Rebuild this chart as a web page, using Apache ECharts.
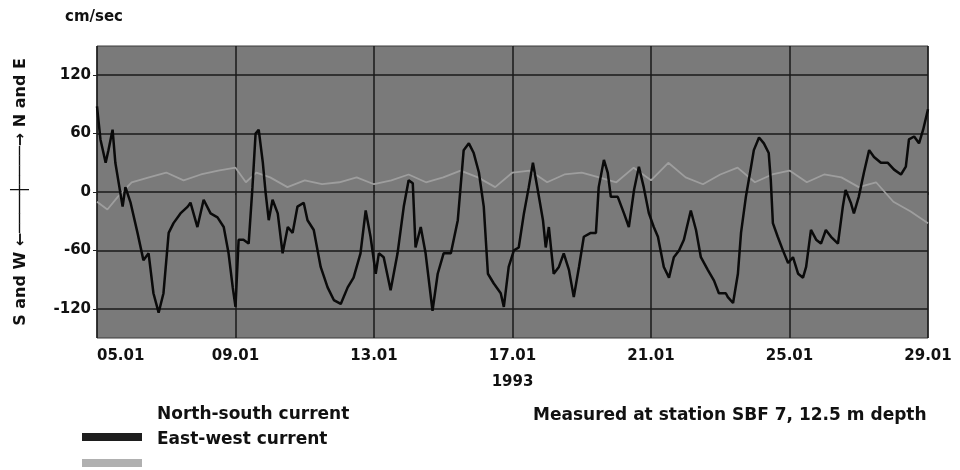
<!DOCTYPE html>
<html lang="en">
<head>
<meta charset="UTF-8">
<title>Currents SBF 7</title>
<script src="https://cdn.jsdelivr.net/npm/echarts@6/dist/echarts.min.js"></script>
<style>
    html, body { margin: 0; background: #fff; }
    #chart { width: 960px; height: 470px; }
</style>
</head>
<body>
<div id="chart"></div>
<script>
    // time in days after 05.01.1993, speed in cm/sec
    var nsDays = [0, 0.10, 0.25, 0.33, 0.45, 0.53, 0.74, 0.82, 0.97, 1.17, 1.34, 1.49, 1.63, 1.78, 1.92, 2.07, 2.21, 2.41, 2.62, 2.70,
        2.90, 3.08, 3.28, 3.48, 3.66, 3.80, 3.92, 4.00, 4.09, 4.23, 4.38, 4.49, 4.58, 4.67, 4.79, 4.87, 4.96, 5.07, 5.22, 5.36,
        5.51, 5.65, 5.79, 5.97, 6.08, 6.26, 6.46, 6.66, 6.84, 7.04, 7.24, 7.41, 7.61, 7.76, 7.90, 8.05, 8.14, 8.28, 8.48, 8.68,
        8.86, 9.00, 9.12, 9.20, 9.35, 9.49, 9.69, 9.84, 10.01, 10.22, 10.42, 10.59, 10.74, 10.88, 11.03, 11.17, 11.29, 11.46, 11.66, 11.75,
        11.89, 12.04, 12.18, 12.33, 12.47, 12.59, 12.73, 12.88, 12.96, 13.05, 13.19, 13.34, 13.48, 13.63, 13.77, 13.92, 14.06, 14.26, 14.41, 14.49,
        14.64, 14.75, 14.84, 15.04, 15.22, 15.36, 15.51, 15.65, 15.79, 15.94, 16.08, 16.20, 16.37, 16.52, 16.66, 16.81, 16.95, 17.15, 17.30, 17.44,
        17.64, 17.82, 17.96, 18.16, 18.22, 18.37, 18.51, 18.60, 18.74, 18.89, 18.97, 19.12, 19.26, 19.40, 19.46, 19.52, 19.66, 19.81, 19.96, 20.10,
        20.25, 20.39, 20.48, 20.62, 20.77, 20.91, 21.05, 21.20, 21.40, 21.54, 21.62, 21.77, 21.86, 22.00, 22.15, 22.30, 22.44, 22.64, 22.84, 23.02,
        23.22, 23.36, 23.45, 23.60, 23.74, 23.86, 24.00];
    var nsValues = [88, 54, 30, 43, 64, 30, -15, 5, -11, -42, -70, -63, -104, -124, -104, -42, -32, -22, -15, -11,
        -36, -8, -22, -26, -36, -63, -98, -118, -49, -49, -53, 5, 60, 64, 30, -1, -29, -8, -22, -63,
        -36, -42, -15, -11, -29, -39, -77, -98, -111, -115, -98, -88, -63, -19, -46, -84, -63, -67, -101, -63,
        -15, 12, 9, -57, -36, -63, -122, -84, -63, -63, -29, 43, 50, 40, 20, -15, -84, -94, -104, -118,
        -77, -60, -57, -22, 5, 30, 2, -29, -57, -36, -84, -77, -63, -80, -108, -77, -46, -42, -42, 5,
        33, 20, -5, -5, -22, -36, 2, 26, 5, -22, -36, -46, -77, -88, -67, -60, -49, -19, -39, -67,
        -80, -91, -104, -104, -108, -114, -84, -42, -5, 26, 43, 56, 50, 40, 12, -32, -46, -60, -73, -67,
        -84, -88, -77, -39, -49, -53, -39, -46, -53, -15, 2, -11, -22, -5, 20, 43, 36, 30, 30, 23,
        18, 26, 54, 57, 50, 64, 85];

    var ewDays = [0, 0.3, 0.6, 1.0, 1.5, 2.0, 2.5, 3.0, 3.5, 4.0, 4.3, 4.6, 5.0, 5.5, 6.0, 6.5, 7.0, 7.5, 8.0, 8.5,
        9.0, 9.5, 10.0, 10.5, 11.0, 11.5, 12.0, 12.5, 13.0, 13.5, 14.0, 14.5, 15.0, 15.5, 16.0, 16.5, 17.0, 17.5, 18.0, 18.5,
        19.0, 19.5, 20.0, 20.5, 21.0, 21.5, 22.0, 22.5, 23.0, 23.5, 24.0];
    var ewValues = [-10, -18, -5, 10, 15, 20, 12, 18, 22, 25, 10, 20, 15, 5, 12, 8, 10, 15, 8, 12,
        18, 10, 15, 22, 15, 5, 20, 22, 10, 18, 20, 15, 10, 25, 12, 30, 15, 8, 18, 25,
        10, 18, 22, 10, 18, 15, 5, 10, -10, -20, -32];

    var dayTicks = ['05.01', '09.01', '13.01', '17.01', '21.01', '25.01', '29.01'];
    var yTicks = [-120, -60, 0, 60, 120];
    var seriesNames = ['North-south current', 'East-west current'];

    function pairs(xs, ys) {
        return xs.map(function (x, i) { return [x, ys[i]]; });
    }

    var font = '"DejaVu Sans", sans-serif';
    var txt = function (size) {
        return {fontSize: size, fontWeight: 'bold', color: '#111', fontFamily: font};
    };
    var chart = echarts.init(document.getElementById('chart'));
    var option = {
        animation: false,
        textStyle: {fontFamily: font, fontWeight: 'bold', color: '#111'},
        title: [
            {text: 'cm/sec', left: 60, top: 5, textStyle: txt(15)},
            {text: 'Measured at station SBF 7, 12.5 m depth', left: 528, top: 402, textStyle: txt(17)}
        ],
        // the labels and the swatches sit one row apart, as in the print
        legend: [
            {
                orient: 'vertical',
                left: 152,
                top: 406,
                padding: 0,
                itemWidth: 0,
                itemHeight: 8,
                itemGap: 8,
                icon: 'rect',
                textStyle: txt(17),
                data: seriesNames
            },
            {
                orient: 'vertical',
                left: 82,
                top: 433,
                padding: 0,
                itemWidth: 60,
                itemHeight: 8,
                itemGap: 18,
                icon: 'rect',
                formatter: function () { return ''; },
                data: seriesNames
            }
        ],
        grid: {
            left: 97, right: 32, top: 46, bottom: 132,
            show: true,
            backgroundColor: '#7a7a7a',
            borderColor: '#3a3a3a',
            borderWidth: 1
        },
        xAxis: {
            type: 'value',
            min: 0,
            max: 24,
            interval: 4,
            name: '1993',
            nameLocation: 'middle',
            nameGap: 37,
            nameTextStyle: txt(15),
            axisLine: {show: false},
            axisTick: {show: true, length: 3, lineStyle: {color: '#222'}},
            axisLabel: Object.assign(txt(15), {
                margin: 11,
                alignMinLabel: 'left',
                formatter: function (v) { return dayTicks[Math.round(v / 4)]; }
            }),
            splitLine: {show: true, lineStyle: {color: '#1a1a1a', width: 1.5}}
        },
        yAxis: {
            type: 'value',
            min: -150,
            max: 150,
            interval: 30,
            name: '{t|S and W }{a|\u2190\u2500\u2500\u2500\u2500\u253C\u2500\u2500\u2500\u2500\u2192}{t| N and E}',
            nameLocation: 'middle',
            nameGap: 68,
            nameRotate: 90,
            nameTextStyle: {
                rich: {
                    t: txt(16),
                    a: {fontSize: 16, color: '#111', fontFamily: font}
                }
            },
            axisLine: {show: false},
            axisTick: {show: true, length: 4, customValues: yTicks, lineStyle: {color: '#222'}},
            axisLabel: Object.assign(txt(15), {margin: 6, customValues: yTicks}),
            splitLine: {show: true, lineStyle: {color: '#1a1a1a', width: 1.5}}
        },
        series: [
            {
                name: seriesNames[0],
                type: 'line',
                data: pairs(nsDays, nsValues),
                showSymbol: false,
                color: '#1e1e1e',
                lineStyle: {color: '#0a0a0a', width: 2.5},
                z: 3
            },
            {
                name: seriesNames[1],
                type: 'line',
                data: pairs(ewDays, ewValues),
                showSymbol: false,
                color: '#b0b0b0',
                lineStyle: {color: '#9e9e9e', width: 1.8},
                z: 2
            }
        ]
    };
    chart.setOption(option);
</script>
</body>
</html>
